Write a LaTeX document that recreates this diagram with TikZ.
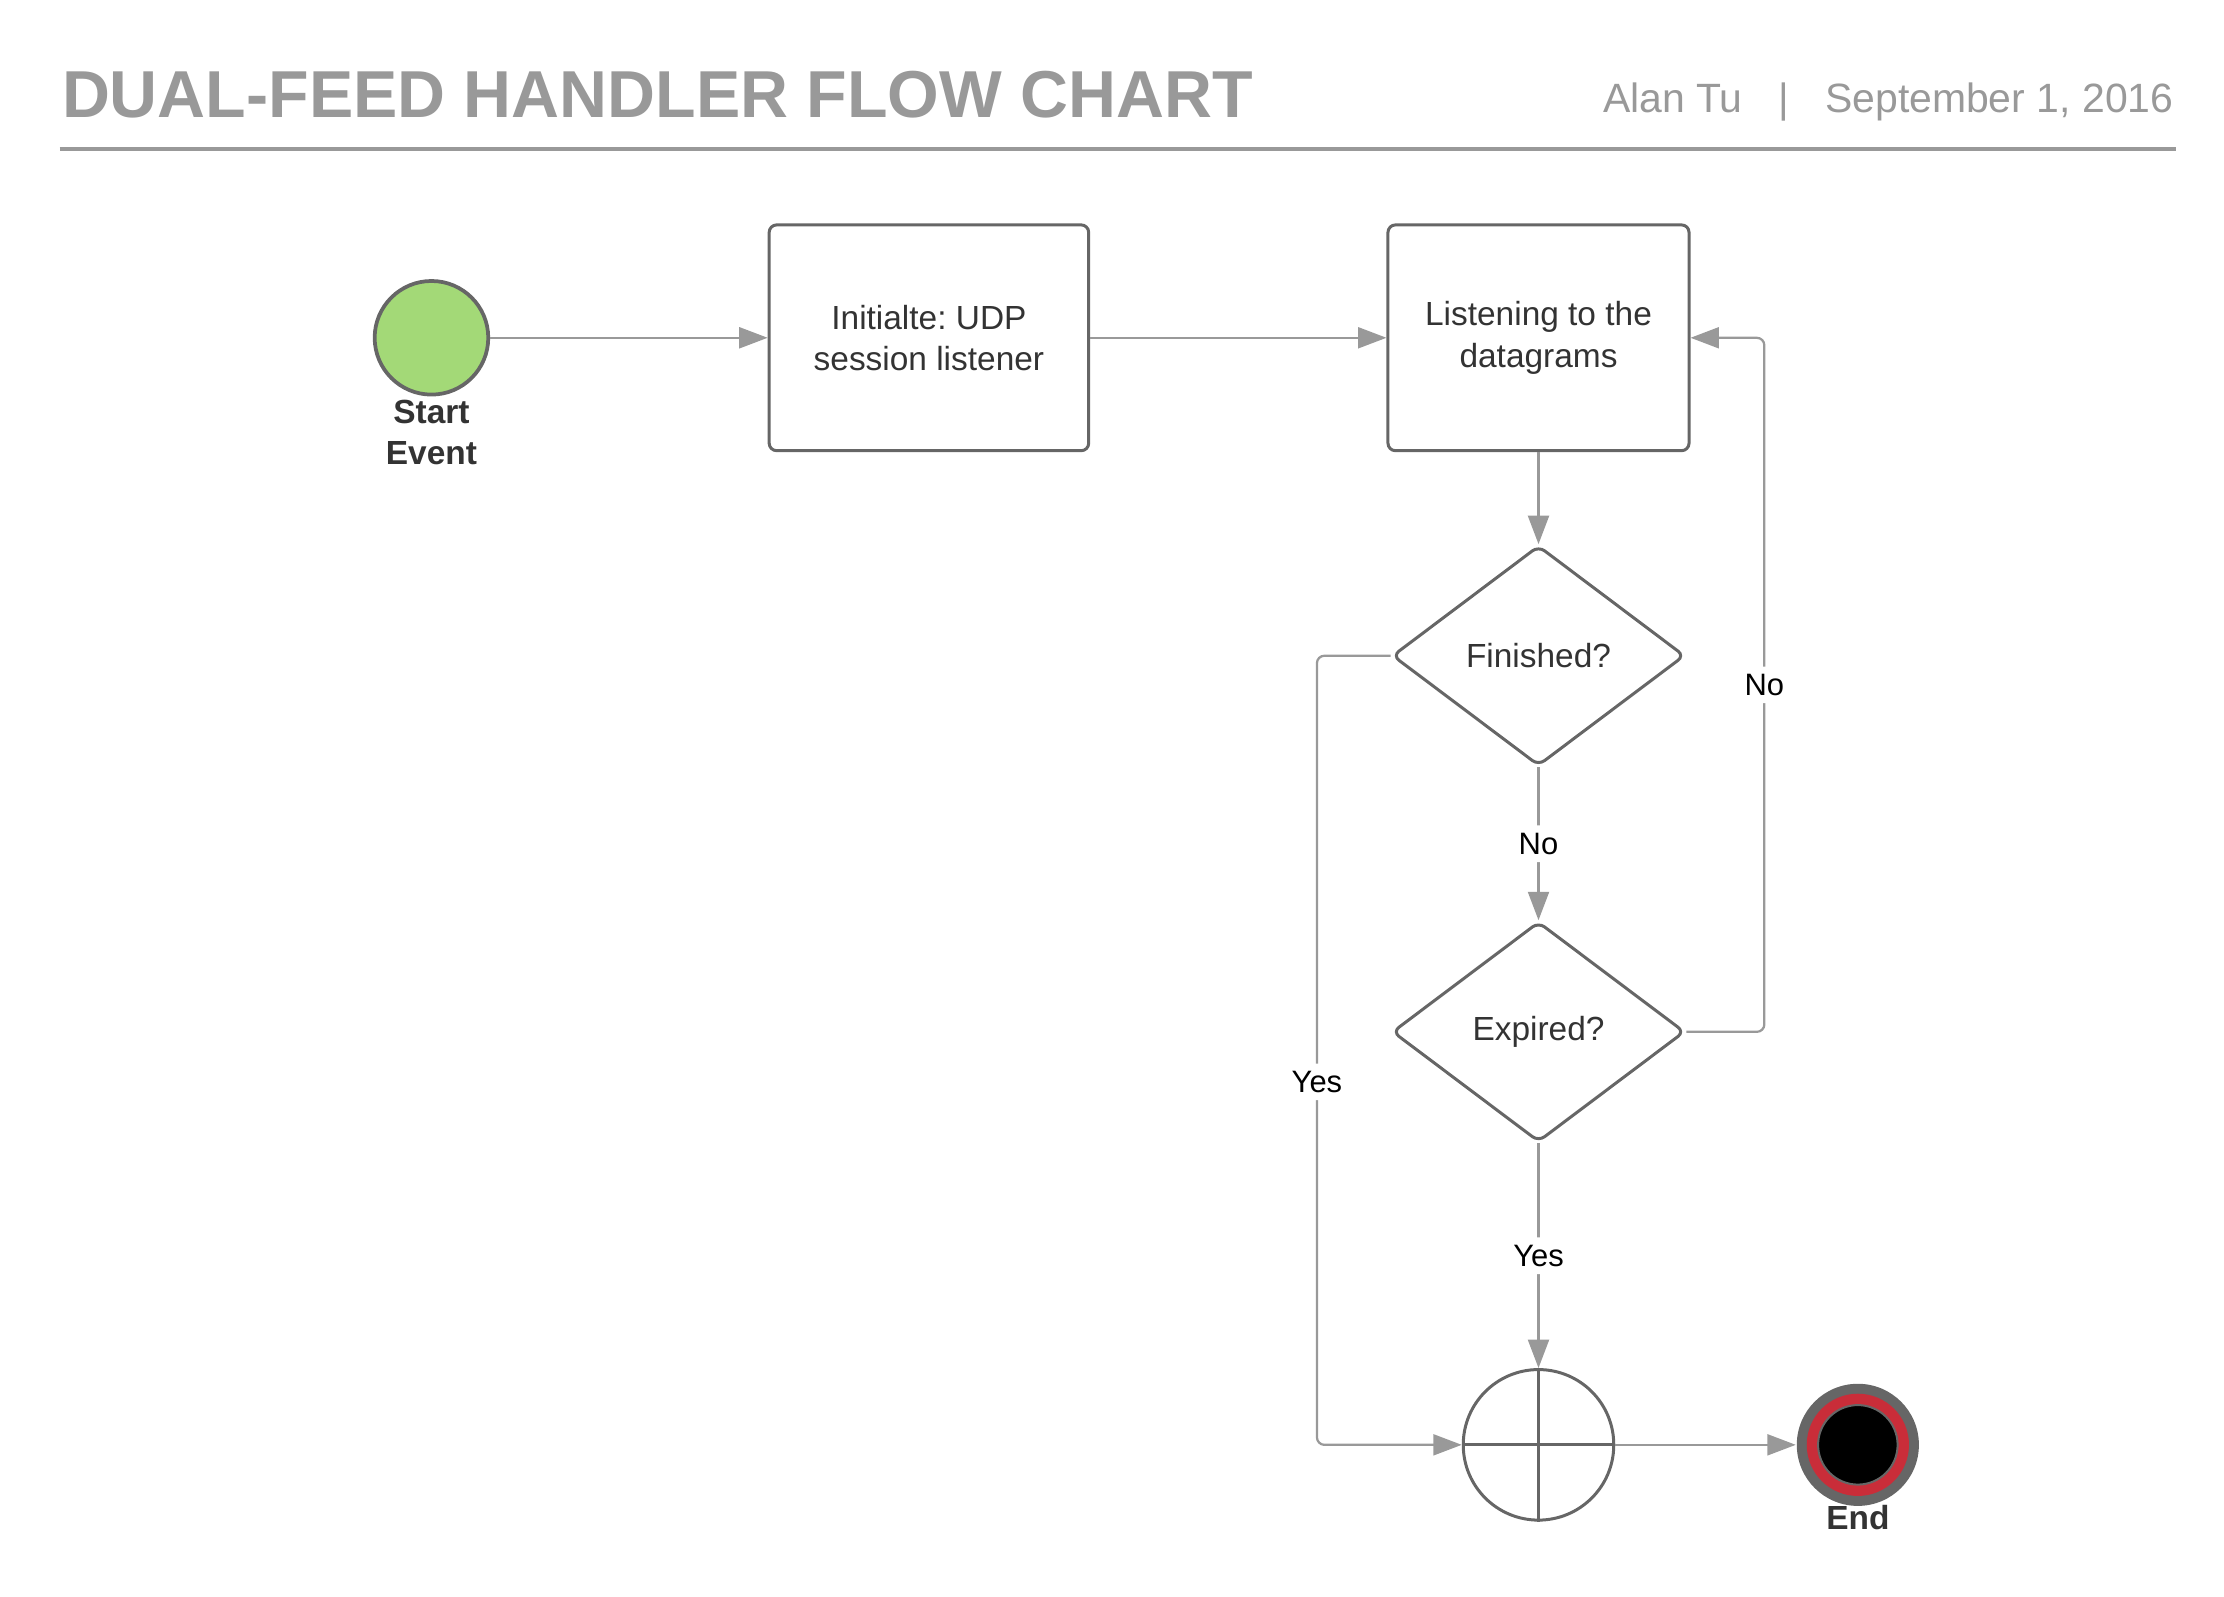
\documentclass[tikz,border=0pt]{standalone}
\usepackage{fontspec}
\setmainfont{Liberation Sans}
\frenchspacing
\usetikzlibrary{positioning,shapes.geometric,arrows.meta}

\begin{document}
\begin{tikzpicture}[x=0.01cm,y=-0.01cm,
	box/.style={draw=shapegray, line width=0.6pt, rounded corners=1.5pt, minimum height=1.59cm, align=center, text=textdark, font=\fontsize{6.7}{8.25}\selectfont},
	decision/.style={diamond, draw=shapegray, line width=0.6pt, rounded corners=1.5pt, minimum width=2.06cm, minimum height=1.55cm, inner sep=0pt, text=textdark, font=\fontsize{6.7}{8.25}\selectfont},
	evlbl/.style={inner sep=0pt, align=center, text=textdark, font=\fontsize{6.7}{8.25}\selectfont\bfseries},
	flow/.style={draw=arrowgray, line width=0.45pt, rounded corners=1.5pt, -{Triangle[length=5.7pt,width=4.2pt]}},
	lbl/.style={fill=white, inner sep=1.5pt, text=black, font=\fontsize{6.2}{7.5}\selectfont}]
	\definecolor{arrowgray}{RGB}{153,153,153}
	\definecolor{shapegray}{RGB}{102,102,102}
	\definecolor{titlegray}{RGB}{153,153,153}
	\definecolor{textdark}{RGB}{51,51,51}
	\definecolor{startgreen}{RGB}{163,217,119}
	\definecolor{endred}{RGB}{201,45,57}
	\useasboundingbox (0,0) rectangle (1567,1125.2);

%Kopf
	\node[anchor=base west, inner sep=0pt, text=titlegray, font=\fontsize{13.3}{16}\selectfont\bfseries] (title) at (43,83) {DUAL-FEED HANDLER FLOW CHART};
	\node[anchor=base east, inner sep=0pt, text=titlegray, font=\fontsize{8.2}{10}\selectfont] (author) at (1532,79) {Alan Tu\hspace{7.2pt}|\hspace{7.2pt}September 1, 2016};
	\draw[titlegray, line width=0.7pt] (42,105)--(1533,105);

%Knoten
	\node[circle, draw=shapegray, fill=startgreen, line width=0.75pt, minimum size=0.8cm, inner sep=0pt] (start) at (304,238) {};
	\node[evlbl, below=0.02cm of start] (startlbl) {Start\\Event};
	\node[box, minimum width=2.25cm] (init) at (654.5,238) {Initialte: UDP\\session listener};
	\node[box, minimum width=2.12cm] (listen) at (1084,238) {Listening to the\\datagrams};
	\node[decision] (finished) at (1084,462) {Finished?};
	\node[decision] (expired) at (1084,727) {Expired?};
	\node[circle, draw=shapegray, line width=0.6pt, minimum size=1.06cm, inner sep=0pt] (gate) at (1084,1018) {};
	\draw[shapegray, line width=0.6pt] (gate.north)--(gate.south) (gate.west)--(gate.east);
	\node[circle, fill=shapegray, minimum size=0.86cm, inner sep=0pt] (endev) at (1309,1018) {};
	\fill[endred] (endev.center) circle (0.36cm);
	\filldraw[fill=black, draw=shapegray, line width=0.4pt] (endev.center) circle (0.28cm);
	\node[evlbl, below=-0.02cm of endev] (endlbl) {End};

%Pfeile
	\draw[flow] (start)--(init);
	\draw[flow] (init)--(listen);
	\draw[flow] (listen)--(finished);
	\draw[flow] (finished)-- node[lbl]{No} (expired);
	\draw[flow] (expired)-- node[lbl]{Yes} (gate);
	\draw[flow] (expired.east)--++(55,0) |- node[lbl, pos=0.25]{No} (listen.east);
	\draw[flow] (finished.west)--++(-52,0) |- node[lbl, pos=0.27]{Yes} (gate.west);
	\draw[flow] (gate)--(endev);

\end{tikzpicture}
\end{document}
